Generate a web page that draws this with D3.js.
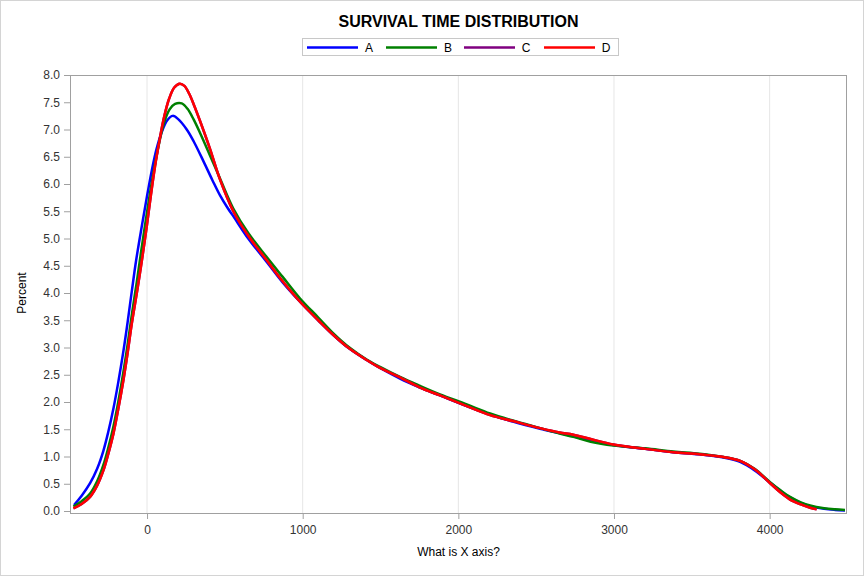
<!DOCTYPE html>
<html>
<head>
<meta charset="utf-8">
<script src="https://cdn.jsdelivr.net/npm/d3@7"></script>
<style>
  body { margin: 0; background: #fff; }
  svg { display: block; font-family: "Liberation Sans", Arial, sans-serif; }
</style>
</head>
<body>
<svg width="864" height="576"></svg>
<script>
// series data: [time, percent]
const seriesNames = ["A", "B", "C", "D"];
const seriesColors = ["#0000ff", "#008000", "#800080", "#ff0000"];

const seriesA = [[-469,0.11],[-420,0.28],[-366,0.51],[-320,0.78],[-281,1.1],[-250,1.44],[-216,1.88],[-185,2.36],[-152,2.93],[-125,3.46],[-98,4.03],[-70,4.6],[-34,5.22],[0,5.78],[30,6.24],[60,6.63],[94,6.95],[130,7.17],[165,7.25],[200,7.19],[255,7.0],[300,6.78],[362,6.42],[420,6.07],[469,5.79],[520,5.55],[554,5.41],[650,5.0],[769,4.57],[870,4.2],[983,3.84],[1100,3.5],[1197,3.23],[1300,2.98],[1411,2.77],[1500,2.62],[1625,2.43],[1750,2.27],[1882,2.12],[2050,1.93],[2204,1.77],[2350,1.64],[2525,1.51],[2650,1.43],[2739,1.37],[2850,1.29],[2996,1.21],[3200,1.14],[3381,1.08],[3550,1.04],[3703,0.98],[3810,0.9],[3906,0.74],[4003,0.52],[4070,0.37],[4131,0.25],[4200,0.15],[4260,0.09],[4350,0.04],[4420,0.02],[4484,0.01]];

const seriesB = [[-473,0.08],[-420,0.18],[-366,0.32],[-320,0.55],[-281,0.84],[-250,1.15],[-216,1.55],[-185,2.0],[-152,2.55],[-125,3.05],[-98,3.6],[-66,4.2],[-40,4.72],[-10,5.3],[20,5.85],[50,6.35],[80,6.78],[110,7.13],[145,7.37],[180,7.47],[223,7.48],[260,7.38],[300,7.18],[340,6.94],[405,6.52],[469,6.1],[554,5.55],[650,5.1],[769,4.66],[870,4.3],[983,3.9],[1100,3.55],[1197,3.26],[1300,3.0],[1411,2.78],[1500,2.64],[1625,2.46],[1750,2.3],[1882,2.14],[2050,1.96],[2204,1.79],[2350,1.66],[2525,1.52],[2650,1.42],[2739,1.36],[2850,1.27],[2996,1.2],[3200,1.15],[3381,1.09],[3550,1.05],[3703,0.99],[3810,0.92],[3906,0.77],[4003,0.53],[4070,0.38],[4131,0.26],[4200,0.16],[4260,0.1],[4350,0.05],[4420,0.03],[4484,0.02]];

const seriesC = [[-473,0.05],[-420,0.13],[-366,0.26],[-320,0.47],[-281,0.74],[-250,1.04],[-216,1.42],[-185,1.87],[-152,2.4],[-125,2.9],[-98,3.44],[-60,4.1],[-30,4.66],[-2,5.22],[25,5.8],[51,6.32],[80,6.8],[105,7.17],[140,7.55],[175,7.77],[210,7.84],[240,7.8],[270,7.66],[300,7.46],[340,7.16],[405,6.64],[469,6.08],[554,5.5],[650,5.05],[769,4.6],[870,4.22],[983,3.84],[1100,3.5],[1197,3.23],[1300,2.98],[1411,2.77],[1500,2.62],[1625,2.45],[1750,2.27],[1882,2.12],[2050,1.93],[2204,1.76],[2350,1.65],[2525,1.52],[2650,1.44],[2739,1.4],[2850,1.32],[2996,1.22],[3200,1.14],[3381,1.08],[3550,1.04],[3703,0.99],[3810,0.92],[3906,0.76],[4003,0.51],[4070,0.34],[4131,0.21],[4200,0.12],[4260,0.06],[4302,0.03]];

const seriesD = [[-473,0.05],[-420,0.13],[-366,0.26],[-320,0.47],[-281,0.74],[-250,1.04],[-216,1.42],[-185,1.87],[-152,2.4],[-125,2.9],[-98,3.44],[-60,4.1],[-30,4.66],[-2,5.22],[25,5.8],[51,6.32],[80,6.8],[105,7.17],[140,7.55],[175,7.77],[210,7.84],[240,7.8],[270,7.66],[300,7.46],[340,7.16],[405,6.64],[469,6.08],[554,5.5],[650,5.05],[769,4.6],[870,4.22],[983,3.84],[1100,3.5],[1197,3.23],[1300,2.98],[1411,2.77],[1500,2.62],[1625,2.45],[1750,2.27],[1882,2.12],[2050,1.93],[2204,1.76],[2350,1.65],[2525,1.52],[2650,1.44],[2739,1.4],[2850,1.32],[2996,1.22],[3200,1.14],[3381,1.08],[3550,1.04],[3703,0.99],[3810,0.92],[3906,0.76],[4003,0.51],[4070,0.34],[4131,0.21],[4200,0.12],[4260,0.06],[4302,0.03]];

const xTicks = [0, 1000, 2000, 3000, 4000];
const yTicks = d3.range(0, 8.01, 0.5);

const allSeries = [seriesA, seriesB, seriesC, seriesD];

const svg = d3.select("svg");
const width = 864, height = 576;
const plot = { left: 70, right: 847, top: 75, bottom: 514 };

// outer border
svg.append("rect")
    .attr("x", 0.5).attr("y", 0.5)
    .attr("width", width - 1).attr("height", height - 1)
    .attr("fill", "#fff")
    .attr("stroke", "#d4d4d4");

const x = d3.scaleLinear().domain([-495, 4497]).range([plot.left, plot.right]);
const y = d3.scaleLinear().domain([0, 8]).range([511, 75]);

// vertical grid lines
svg.append("g")
    .selectAll("line")
    .data(xTicks)
    .enter()
    .append("line")
    .attr("x1", d => x(d)).attr("x2", d => x(d))
    .attr("y1", plot.top).attr("y2", plot.bottom)
    .attr("stroke", "#e6e6e6")
    .attr("stroke-width", 1);

// axes
const xAxis = svg.append("g")
    .attr("transform", `translate(0,${plot.bottom})`)
    .call(d3.axisBottom(x).tickValues(xTicks).tickSize(5).tickPadding(6).tickFormat(d3.format("d")));

const yAxis = svg.append("g")
    .attr("transform", `translate(${plot.left},0)`)
    .call(d3.axisLeft(y).tickValues(yTicks).tickSize(6).tickPadding(4).tickFormat(d3.format(".1f")));

[xAxis, yAxis].forEach(g => {
    g.select(".domain").remove();
    g.selectAll(".tick line").attr("stroke", "#a0a0a0");
    g.selectAll(".tick text")
        .attr("fill", "#333")
        .attr("font-size", "12px")
        .attr("font-family", "Liberation Sans, Arial, sans-serif");
});

// frame
svg.append("rect")
    .attr("x", plot.left + 0.5).attr("y", plot.top + 0.5)
    .attr("width", plot.right - plot.left - 1)
    .attr("height", plot.bottom - plot.top - 1)
    .attr("fill", "none")
    .attr("stroke", "#a0a0a0");

// curves
const line = d3.line()
    .x(d => x(d[0]))
    .y(d => y(d[1]))
    .curve(d3.curveCatmullRom.alpha(0.5));

svg.append("g")
    .selectAll("path")
    .data(allSeries)
    .enter()
    .append("path")
    .attr("d", line)
    .attr("fill", "none")
    .attr("stroke", (d, i) => seriesColors[i])
    .attr("stroke-width", 2.5)
    .attr("stroke-linejoin", "round");

// title
svg.append("text")
    .attr("x", (plot.left + plot.right) / 2)
    .attr("y", 27)
    .attr("text-anchor", "middle")
    .attr("font-size", "16px")
    .attr("font-weight", "bold")
    .attr("fill", "#000")
    .text("SURVIVAL TIME DISTRIBUTION");

// legend
const legend = svg.append("g");
legend.append("rect")
    .attr("x", 302.5).attr("y", 38.5)
    .attr("width", 316).attr("height", 17)
    .attr("fill", "#fff")
    .attr("stroke", "#c8c8c8");

const legendX = [307, 386, 464, 544];
seriesNames.forEach((name, i) => {
    legend.append("line")
        .attr("x1", legendX[i]).attr("x2", legendX[i] + 51)
        .attr("y1", 47.5).attr("y2", 47.5)
        .attr("stroke", seriesColors[i])
        .attr("stroke-width", 2.5);
    legend.append("text")
        .attr("x", legendX[i] + 62)
        .attr("y", 51.5)
        .attr("text-anchor", "middle")
        .attr("font-size", "12px")
        .attr("fill", "#000")
        .text(name);
});

// axis labels
svg.append("text")
    .attr("x", (plot.left + plot.right) / 2)
    .attr("y", 556)
    .attr("text-anchor", "middle")
    .attr("font-size", "12px")
    .attr("fill", "#000")
    .text("What is X axis?");

svg.append("text")
    .attr("transform", `translate(26,${(75 + 511) / 2}) rotate(-90)`)
    .attr("text-anchor", "middle")
    .attr("font-size", "12px")
    .attr("fill", "#000")
    .text("Percent");
</script>
</body>
</html>
